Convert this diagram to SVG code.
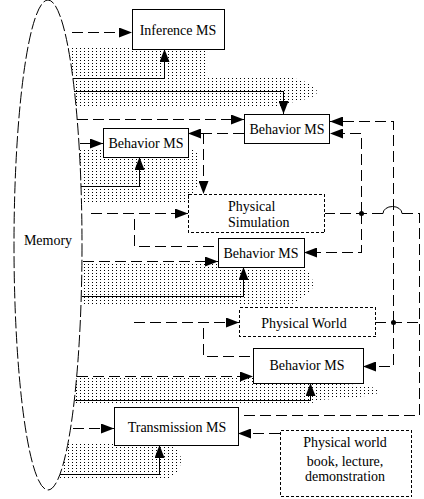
<svg xmlns="http://www.w3.org/2000/svg" width="424" height="499" viewBox="0 0 424 499">
<style>
.box{fill:#fff;stroke:#000;stroke-width:1;shape-rendering:crispEdges}
.dbox{fill:#fff;stroke:#000;stroke-width:1;stroke-dasharray:3 2;shape-rendering:crispEdges}
.sol{fill:none;stroke:#000;stroke-width:1;shape-rendering:crispEdges}
.dash{fill:none;stroke:#000;stroke-width:1;stroke-dasharray:11 5;shape-rendering:crispEdges}
.arr{marker-end:url(#ah)}
.m{text-anchor:middle}
.shade{fill:url(#dots);stroke:none}
</style>
<defs>
<pattern id="dots" patternUnits="userSpaceOnUse" width="4" height="3">
<rect x="0" y="0" width="1" height="1" fill="#000"/>
</pattern>
<marker id="ah" viewBox="0 0 13 10" refX="13" refY="5" markerWidth="13" markerHeight="10" markerUnits="userSpaceOnUse" orient="auto">
<path d="M0,0 L13,5 L0,10 z" fill="#000"/>
</marker>
</defs>
<rect width="424" height="499" fill="#fff"/>
<g id="shading">
<path class="shade" d="M50,47 H205 C210,55 203,68 207,77 H290 C300,80 317,84 317,92 C317,98 300,100 286,104 L284,108 H50 Z"/>
<path class="shade" d="M50,150 H195 C200,155 200,165 200,185 L192,194 L188,202 H50 Z"/>
<path class="shade" d="M50,263 H218 V267 H300 C310,270 313,278 313,285 C313,292 305,296 300,300 L290,305 H50 Z"/>
<path class="shade" d="M50,378 H260 V383 H320 C350,384 380,386 380,391 C380,396 350,398 320,400 L312,403 H50 Z"/>
<path class="shade" d="M50,443 H165 C175,445 181,452 181,460 C181,468 176,475 170,478 H50 Z"/>
</g>
<g font-family="Liberation Serif, Times New Roman, serif" font-size="14" fill="#000">
<g id="memory">
<ellipse cx="48" cy="245" rx="34" ry="245" fill="#fff" stroke="#000" stroke-width="1" stroke-dasharray="12 3"/>
<text class="m" x="48" y="245">Memory</text>
</g>
<g id="connectors">
<path class="dash arr" d="M72,32.5 H132"/>
<path class="sol arr" d="M73,78.5 H164.5 V49"/>
<path class="sol arr" d="M74,91.5 H283.5 V114"/>
<path class="dash arr" d="M77,119.5 H244"/>
<path class="dash arr" d="M80,143.5 H103"/>
<path class="dash arr" d="M244,133.5 H188"/>
<path class="dash arr" d="M203.5,133 V194"/>
<path class="sol arr" d="M81,186.5 H139.5 V157"/>
<path class="dash arr" d="M91,213.5 H188"/>
<path class="dash" d="M134.5,219 V246.5 H218"/>
<path class="dash arr" d="M83,261.5 H218"/>
<path class="sol arr" d="M82,296.5 H243.5 V267"/>
<path class="dash arr" d="M134,322.5 H239"/>
<path class="dash" d="M203.5,328 V356.5 H253"/>
<path class="dash arr" d="M77,376.5 H253"/>
<path class="sol arr" d="M75,400.5 H310.5 V383"/>
<path class="dash arr" d="M73,428.5 H114"/>
<path class="sol arr" d="M61,474.5 H159.5 V445"/>
<path class="dash arr" d="M280,433.5 H238"/>
<path class="dash" d="M324,213.5 H383"/>
<path d="M383,213.5 A9.5,7 0 0 1 402,213.5" fill="none" stroke="#000" stroke-width="1"/>
<path class="dash" d="M402,213.5 H419.5 V415.5 H238"/>
<path class="dash arr" d="M361.5,213 V133.5 H330"/>
<path class="dash arr" d="M361.5,213 V252.5 H304"/>
<path class="dash" d="M375,322.5 H419"/>
<path class="dash arr" d="M393.5,322 V121.5 H330"/>
<path class="dash arr" d="M393.5,322 V366.5 H363"/>
<circle cx="361.5" cy="213.5" r="2.5" fill="#000"/>
<circle cx="393.5" cy="322.5" r="2.5" fill="#000"/>
</g>
<g id="inference-ms">
<rect class="box" x="132.5" y="9.5" width="92" height="40"/>
<text class="m" x="178" y="35">Inference MS</text>
</g>
<g id="behavior-ms-1">
<rect class="box" x="244.5" y="114.5" width="85" height="29"/>
<text class="m" x="287" y="134">Behavior MS</text>
</g>
<g id="behavior-ms-2">
<rect class="box" x="103.5" y="128.5" width="85" height="29"/>
<text class="m" x="146" y="148">Behavior MS</text>
</g>
<g id="physical-simulation">
<rect class="dbox" x="188.5" y="194.5" width="136" height="38"/>
<text x="228" y="211">Physical</text>
<text x="228" y="227">Simulation</text>
</g>
<g id="behavior-ms-3">
<rect class="box" x="218.5" y="238.5" width="86" height="29"/>
<text class="m" x="261" y="258">Behavior MS</text>
</g>
<g id="physical-world">
<rect class="dbox" x="239.5" y="307.5" width="136" height="29"/>
<text class="m" x="304" y="328">Physical World</text>
</g>
<g id="behavior-ms-4">
<rect class="box" x="253.5" y="348.5" width="110" height="35"/>
<text class="m" x="307" y="370">Behavior MS</text>
</g>
<g id="transmission-ms">
<rect class="box" x="114.5" y="407.5" width="124" height="38"/>
<text class="m" x="177" y="432">Transmission MS</text>
</g>
<g id="physical-world-book">
<rect class="dbox" x="280.5" y="430.5" width="131" height="66"/>
<text class="m" x="345" y="447">Physical world</text>
<text class="m" x="345" y="466">book, lecture,</text>
<text class="m" x="345" y="481">demonstration</text>
</g>
</g>
</svg>
